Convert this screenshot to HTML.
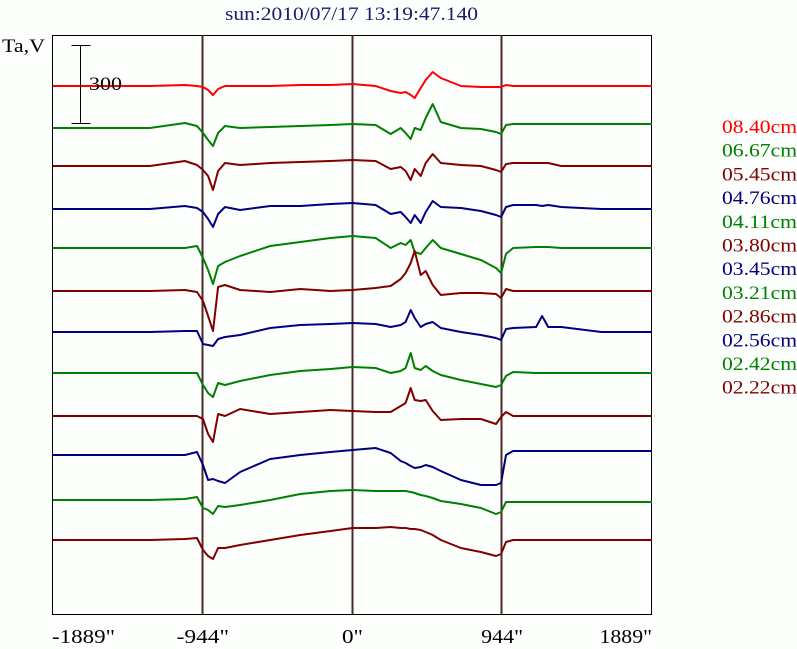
<!DOCTYPE html>
<html><head><meta charset="utf-8"><style>
html,body{margin:0;padding:0;background:#fdfffd;}
svg{display:block;font-family:"Liberation Serif",serif;}
</style></head><body>
<svg id="chart" width="797" height="649" viewBox="0 0 797 649">
<rect x="0" y="0" width="797" height="649" fill="#fdfffd"/>
<text x="225" y="20" font-size="19" fill="#1a1a6e" textLength="253" lengthAdjust="spacingAndGlyphs">sun:2010/07/17 13:19:47.140</text>
<text x="2" y="52" font-size="19" fill="#000" textLength="43" lengthAdjust="spacingAndGlyphs">Ta,V</text>
<rect x="52.5" y="35.5" width="599" height="579" fill="none" stroke="#000" stroke-width="1"/>
<g id="vlines"></g>
<g id="series"></g>
<g id="scalebar"></g>
<g id="xticks"></g>
<g id="legend"></g>
</svg>
<script>
// Shared scan positions (arcsec)
const xs = [-1889,-1278,-1057,-981,-943,-911,-880,-848,-804,-709,-519,-329,-139,0,146,241,304,335,367,392,430,462,506,557,684,810,905,937,968,1013,1158,1196,1234,1316,1570,1889];
const freqLabels = ["08.40cm","06.67cm","05.45cm","04.76cm","04.11cm","03.80cm","03.45cm","03.21cm","02.86cm","02.56cm","02.42cm","02.22cm"];
const seriesColors = ["#ff0000","#008000","#800000","#000080","#008000","#800000","#000080","#008000","#800000","#000080","#008000","#800000"];
const baselines = [86,128,166,209,248,291,332,373,416,455,500,540];
const s1 = [0,0,1,0,-1,-4,-9,-3,0,0,0,1,1,2,0,-5,-7,-6,-9,-12,-2,6,14,8,0,-1,-1,-1,1,0,0,0,0,0,0,0];
const s2 = [0,0,5,2,-5,-12,-18,-5,2,0,1,2,3,4,3,-6,0,-5,-11,0,-2,10,24,6,0,-1,-4,-6,3,4,4,4,4,4,4,4];
const s3 = [0,0,5,1,-4,-10,-24,-5,3,1,3,4,5,6,5,-3,-1,-5,-14,-3,-10,3,12,3,1,0,-4,-6,2,3,3,3,3,0,0,0];
const s4 = [0,0,3,1,-3,-10,-18,-5,2,-1,3,3,5,6,4,-5,-3,-8,-14,-6,-14,-3,8,2,1,-2,-6,-8,2,4,4,3,4,2,0,0];
const s5 = [0,0,0,2,-10,-22,-36,-18,-14,-8,2,6,10,12,10,0,5,3,8,-4,-6,0,8,0,-6,-12,-20,-25,-6,0,1,1,1,0,0,0];
const s6 = [0,0,1,-1,-10,-25,-40,4,6,1,-1,2,0,1,3,5,12,18,28,40,16,20,6,-4,-2,-2,-3,-7,2,0,0,0,0,0,0,0];
const s7 = [0,0,1,1,-12,-13,-14,-7,-5,-3,4,7,8,9,8,5,7,10,22,14,5,8,10,4,0,-3,-6,-8,3,4,5,16,5,5,0,0];
const s8 = [0,0,0,0,-12,-20,-24,-10,-12,-8,-2,2,4,6,5,0,2,5,20,5,3,7,2,-2,-7,-11,-14,-12,-3,1,0,0,0,0,0,0];
const s9 = [0,0,0,0,-3,-18,-26,2,0,7,2,4,6,5,4,4,10,13,28,16,15,16,5,-4,-3,-3,-8,-1,4,0,0,0,0,0,0,0];
const s10 = [0,0,0,3,-10,-25,-24,-26,-28,-17,-4,0,3,5,7,2,-6,-8,-11,-13,-12,-10,-12,-16,-25,-30,-30,-28,0,4,4,4,4,4,4,4];
const s11 = [0,0,1,3,-8,-10,-14,-6,-7,-5,0,6,9,10,9,9,9,9,8,7,5,4,2,-1,-4,-8,-14,-12,-2,-2,-2,-2,-2,-2,-2,-2];
const s12 = [0,0,1,2,-10,-16,-19,-8,-8,-5,0,5,9,12,12,13,12,12,11,11,10,8,5,0,-8,-12,-16,-14,-2,0,0,0,0,0,0,0];
const allSeries = [s1,s2,s3,s4,s5,s6,s7,s8,s9,s10,s11,s12];
const tickVals = [-1889,-944,0,944,1889];
const tickLabels = ['-1889"','-944"','0"','944"','1889"'];
const limbVals = [-944,0,944];
const scaleBarValue = 300;

const NS = "http://www.w3.org/2000/svg";
const X0 = 53, X1 = 652;
function xPos(v){ return X0 + (v + 1889) / 3778 * (X1 - X0); }
const pxPerUnit = 1;
function yPos(base, v){ return base - v * pxPerUnit; }

const vl = document.getElementById('vlines');
limbVals.forEach((v,i)=>{
  const l = document.createElementNS(NS,'line');
  const x = Math.round(xPos(v)) - 0.5;
  l.setAttribute('x1',x); l.setAttribute('x2',x);
  l.setAttribute('y1',35); l.setAttribute('y2',614);
  l.setAttribute('stroke','#4a2a2a'); l.setAttribute('stroke-width','2');
  
  
  vl.appendChild(l);
});

const sg = document.getElementById('series');
allSeries.forEach((vals,i)=>{
  const p = document.createElementNS(NS,'polyline');
  const pts = vals.map((v,j)=> xPos(xs[j]).toFixed(1) + ',' + yPos(baselines[i], v).toFixed(1)).join(' ');
  p.setAttribute('points', pts);
  p.setAttribute('fill','none');
  p.setAttribute('stroke', seriesColors[i]);
  p.setAttribute('stroke-width','2');
  p.setAttribute('stroke-linejoin','round');
  
  
  sg.appendChild(p);
});

const sb = document.getElementById('scalebar');
const barH = 78;
const barTop = 45;
[[80,barTop,80,barTop+barH],[71,barTop,90,barTop],[71,barTop+barH,90,barTop+barH]].forEach((c,k)=>{
  const l = document.createElementNS(NS,'line');
  l.setAttribute('x1',c[0]+0.5); l.setAttribute('y1',c[1]+0.5);
  l.setAttribute('x2',c[2]+0.5); l.setAttribute('y2',c[3]+0.5);
  l.setAttribute('stroke','#000'); l.setAttribute('stroke-width','1');
  
  
  sb.appendChild(l);
});
const sbt = document.createElementNS(NS,'text');
sbt.setAttribute('x',89); sbt.setAttribute('y',90);
sbt.setAttribute('font-size','19'); sbt.setAttribute('fill','#000');
sbt.setAttribute('textLength','33'); sbt.setAttribute('lengthAdjust','spacingAndGlyphs');
sbt.textContent = String(scaleBarValue);


sb.appendChild(sbt);

const xt = document.getElementById('xticks');
tickVals.forEach((v,i)=>{
  const t = document.createElementNS(NS,'text');
  let anchor = 'middle', x = xPos(v);
  if(i===0){anchor='start'; x = 52;}
  if(i===tickVals.length-1){anchor='end'; x = 652;}
  t.setAttribute('x',x); t.setAttribute('y',643);
  t.setAttribute('text-anchor',anchor);
  t.setAttribute('font-size','20'); t.setAttribute('fill','#000');
  t.setAttribute('textLength', String(tickLabels[i].length * 10.5));
  t.setAttribute('lengthAdjust','spacingAndGlyphs');
  t.textContent = tickLabels[i];
  
  
  xt.appendChild(t);
});

const lg = document.getElementById('legend');
freqLabels.forEach((lab,i)=>{
  const t = document.createElementNS(NS,'text');
  t.setAttribute('x',722); t.setAttribute('y',133 + i*23.7);
  t.setAttribute('font-size','19'); t.setAttribute('fill',seriesColors[i]);
  t.setAttribute('textLength','75'); t.setAttribute('lengthAdjust','spacingAndGlyphs');
  t.textContent = lab;
  
  
  lg.appendChild(t);
});
</script>
</body></html>
